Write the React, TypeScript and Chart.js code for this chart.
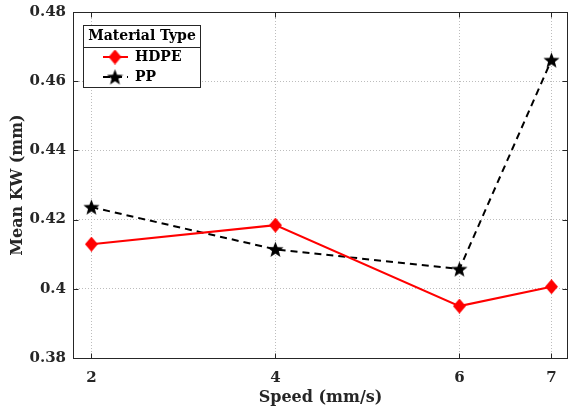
import React, { useEffect, useRef } from "react";
import { Chart, registerables } from "chart.js";

Chart.register(...registerables);

const speeds = [2, 4, 6, 7];
const hdpeValues = [0.4129, 0.4184, 0.395, 0.4006];
const ppValues = [0.4236, 0.4114, 0.4057, 0.4661];
const xTickValues = [2, 4, 6, 7];
const seriesNames = ["HDPE", "PP"];
const legendTitle = "Material Type";
const xTitle = "Speed (mm/s)";
const yTitle = "Mean KW (mm)";

const FONT = "'DejaVu Serif', serif";
const TEXT = "#262626";

function makeStar(size: number, color: string): HTMLCanvasElement {
  const c = document.createElement("canvas");
  c.width = size;
  c.height = size;
  const ctx = c.getContext("2d")!;
  const cx = size / 2, cy = size / 2 + size * 0.04;
  const R = size / 2, r = R * 0.42;
  ctx.beginPath();
  for (let i = 0; i < 10; i++) {
    const ang = -Math.PI / 2 + (i * Math.PI) / 5;
    const rad = i % 2 === 0 ? R : r;
    const x = cx + rad * Math.cos(ang);
    const y = cy + rad * Math.sin(ang);
    if (i === 0) ctx.moveTo(x, y);
    else ctx.lineTo(x, y);
  }
  ctx.closePath();
  ctx.fillStyle = color;
  ctx.fill();
  return c;
}

function makeDiamond(w: number, h: number, color: string): HTMLCanvasElement {
  const c = document.createElement("canvas");
  c.width = w;
  c.height = h;
  const ctx = c.getContext("2d")!;
  ctx.beginPath();
  ctx.moveTo(w / 2, 0);
  ctx.lineTo(w, h / 2);
  ctx.lineTo(w / 2, h);
  ctx.lineTo(0, h / 2);
  ctx.closePath();
  ctx.fillStyle = color;
  ctx.fill();
  return c;
}

const zeroPad = (s: any) => {
  s.paddingLeft = 0;
  s.paddingRight = 0;
  s.paddingTop = 0;
  s.paddingBottom = 0;
};

export default function App() {
  const ref = useRef<HTMLCanvasElement>(null);
  useEffect(() => {
    document.body.style.margin = "0";
    const star = makeStar(17, "#000");
    const diamond = makeDiamond(13, 15, "#ff0000");
    const frame = {
      id: "frame",
      afterDatasetsDraw(chart: any) {
        const { ctx, chartArea: a, scales } = chart;
        ctx.save();
        ctx.strokeStyle = "#262626";
        ctx.lineWidth = 1;
        const L = Math.round(a.left) + 0.5, T = Math.round(a.top) + 0.5;
        const Rr = Math.round(a.right) - 0.5, B = Math.round(a.bottom) + 0.5;
        ctx.strokeRect(L, T, Rr - L, B - T);
        const tl = 5;
        ctx.beginPath();
        for (const v of xTickValues) {
          const x = Math.round(scales.x.getPixelForValue(v)) + 0.5;
          ctx.moveTo(x, B);
          ctx.lineTo(x, B - tl);
          ctx.moveTo(x, T);
          ctx.lineTo(x, T + tl);
        }
        for (let v = 0.38; v <= 0.4801; v += 0.02) {
          const y = Math.round(scales.y.getPixelForValue(v)) + 0.5;
          ctx.moveTo(L, y);
          ctx.lineTo(L + tl, y);
          ctx.moveTo(Rr, y);
          ctx.lineTo(Rr - tl, y);
        }
        ctx.stroke();

        // legend
        const bx = 83.5, by = 25.5, bw = 117, bh = 62;
        ctx.fillStyle = "#fff";
        ctx.fillRect(bx, by, bw, bh);
        ctx.strokeStyle = "#262626";
        ctx.strokeRect(bx, by, bw, bh);
        ctx.beginPath();
        ctx.moveTo(bx, 47.5);
        ctx.lineTo(bx + bw, 47.5);
        ctx.stroke();
        ctx.fillStyle = "#000";
        ctx.font = `bold 14px ${FONT}`;
        ctx.textAlign = "center";
        ctx.textBaseline = "middle";
        ctx.fillText(legendTitle, bx + bw / 2, 36.5);
        ctx.strokeStyle = "#ff0000";
        ctx.lineWidth = 2;
        ctx.beginPath();
        ctx.moveTo(103, 57);
        ctx.lineTo(128, 57);
        ctx.stroke();
        ctx.drawImage(diamond, 115 - 6.5, 57 - 7.5);
        ctx.strokeStyle = "#000";
        ctx.setLineDash([7, 5]);
        ctx.beginPath();
        ctx.moveTo(103, 77);
        ctx.lineTo(128, 77);
        ctx.stroke();
        ctx.setLineDash([]);
        ctx.drawImage(star, 115 - 8.5, 77 - 8.5);
        ctx.fillStyle = "#000";
        ctx.textAlign = "left";
        ctx.font = `bold 14px ${FONT}`;
        ctx.fillText(seriesNames[0], 135, 57.5);
        ctx.fillText(seriesNames[1], 135, 77.5);
        ctx.restore();
      },
    };

    const chart = new Chart(ref.current!, {
      type: "line",
      data: {
        datasets: [
          {
            label: seriesNames[0],
            data: speeds.map((s, i) => ({ x: s, y: hdpeValues[i] })),
            borderColor: "#ff0000",
            backgroundColor: "#ff0000",
            borderWidth: 2,
            pointStyle: diamond as any,
            pointRadius: 7,
            tension: 0,
          },
          {
            label: seriesNames[1],
            data: speeds.map((s, i) => ({ x: s, y: ppValues[i] })),
            borderColor: "#000",
            backgroundColor: "#000",
            borderWidth: 2,
            borderDash: [7, 5],
            pointStyle: star as any,
            pointRadius: 8,
            tension: 0,
          },
        ],
      },
      plugins: [frame],
      options: {
        responsive: false,
        animation: false,
        layout: { autoPadding: false, padding: { left: 0, right: 1, top: 12, bottom: 0 } },
        plugins: { legend: { display: false }, tooltip: { enabled: false } },
        scales: {
          x: {
            type: "linear",
            min: 1.8,
            max: 7.18,
            afterBuildTicks: (s: any) => {
              s.ticks = xTickValues.map((v) => ({ value: v }));
            },
            afterFit: (s: any) => {
              s.height = 52;
              zeroPad(s);
            },
            border: { display: false, dash: [1, 2] },
            grid: { color: "#bdbdbd", drawTicks: false },
            ticks: {
              padding: 11,
              color: TEXT,
              font: { family: FONT, size: 15, weight: "bold" },
              callback: (v: any) => String(v),
            },
            title: {
              display: true,
              text: xTitle,
              color: TEXT,
              font: { family: FONT, size: 16, weight: "bold" },
              padding: { top: 0, bottom: 3 },
            },
          },
          y: {
            min: 0.38,
            max: 0.48,
            afterFit: (s: any) => {
              s.width = 73;
              zeroPad(s);
            },
            border: { display: false, dash: [1, 2] },
            grid: { color: "#bdbdbd", drawTicks: false },
            ticks: {
              stepSize: 0.02,
              padding: 7,
              color: TEXT,
              font: { family: FONT, size: 15, weight: "bold" },
              callback: (v: any) => String(Number(Number(v).toFixed(2))),
            },
            title: {
              display: true,
              text: yTitle,
              color: TEXT,
              font: { family: FONT, size: 16, weight: "bold" },
              padding: { top: 8, bottom: 0 },
            },
          },
        },
      },
    } as any);
    return () => chart.destroy();
  }, []);
  return (
    <div style={{ width: 569, height: 410 }}>
      <canvas ref={ref} width={569} height={410} />
    </div>
  );
}
